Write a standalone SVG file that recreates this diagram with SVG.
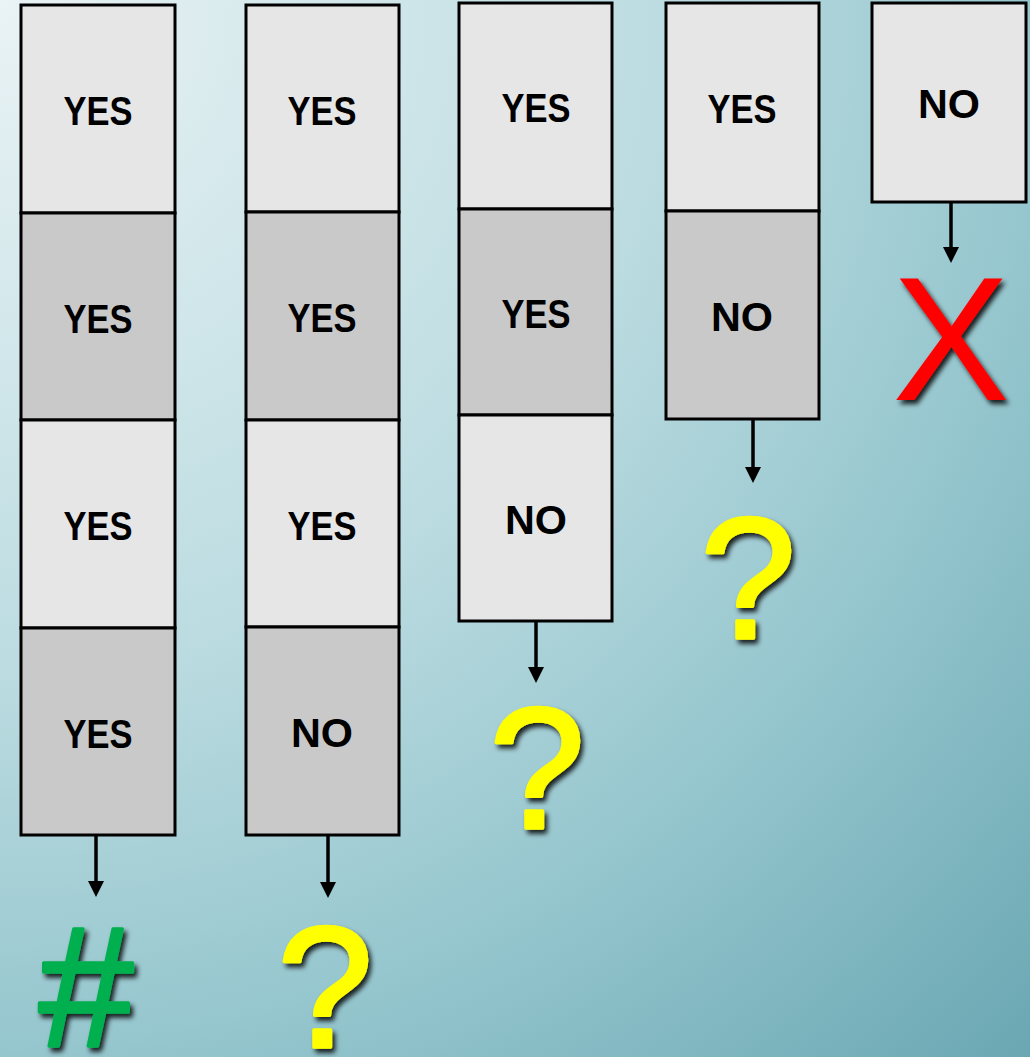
<svg xmlns="http://www.w3.org/2000/svg" width="1030" height="1057" viewBox="0 0 1030 1057">
  <defs>
    <radialGradient id="bg" cx="0" cy="0" r="1476" gradientUnits="userSpaceOnUse">
      <stop offset="0" stop-color="#eaf3f5"/>
      <stop offset="0.45" stop-color="#bcdce1"/>
      <stop offset="0.72" stop-color="#94c5cd"/>
      <stop offset="1" stop-color="#6aa7b3"/>
    </radialGradient>
    <filter id="shadow" x="-20%" y="-20%" width="150%" height="150%">
      <feDropShadow dx="3" dy="4" stdDeviation="2.5" flood-color="#000" flood-opacity="0.85"/>
    </filter>
    <marker id="arrow" viewBox="0 0 16 16" refX="2" refY="8" markerWidth="16" markerHeight="16" markerUnits="userSpaceOnUse" orient="auto">
      <path d="M0,0 L16,8 L0,16 z" fill="#000"/>
    </marker>
  </defs>
  <style>
    .light { fill: #e6e6e6; stroke: #000; stroke-width: 3; }
    .dark { fill: #c9c9c9; stroke: #000; stroke-width: 3; }
    .lbl { font-family: "Liberation Sans", Arial, sans-serif; font-weight: bold; font-size: 41px; fill: #000; text-anchor: middle; }
    .conn { stroke: #000; stroke-width: 3.5; fill: none; marker-end: url(#arrow); }
    .sym { font-family: "Liberation Sans", Arial, sans-serif; text-anchor: middle; filter: url(#shadow); stroke-width: 3.5; stroke-linejoin: round; }
    .q { fill: #ffff00; stroke: #ffff00; font-size: 172px; }
    .hash { fill: #00b050; stroke: #00b050; font-size: 170px; }
    .x { fill: #ff0000; font-size: 176px; }
  </style>
  <rect x="0" y="0" width="1030" height="1057" fill="url(#bg)"/>

  <g id="column1">
    <g id="c1r1"><rect class="light" x="21" y="5" width="154" height="208"/><text class="lbl" x="98" y="125" textLength="69" lengthAdjust="spacingAndGlyphs">YES</text></g>
    <g id="c1r2"><rect class="dark" x="21" y="213" width="154" height="207"/><text class="lbl" x="98" y="333" textLength="69" lengthAdjust="spacingAndGlyphs">YES</text></g>
    <g id="c1r3"><rect class="light" x="21" y="420" width="154" height="208"/><text class="lbl" x="98" y="540" textLength="69" lengthAdjust="spacingAndGlyphs">YES</text></g>
    <g id="c1r4"><rect class="dark" x="21" y="628" width="154" height="207"/><text class="lbl" x="98" y="748" textLength="69" lengthAdjust="spacingAndGlyphs">YES</text></g>
  </g>
  <g id="column2">
    <g id="c2r1"><rect class="light" x="246" y="5" width="153" height="207"/><text class="lbl" x="322" y="125" textLength="69" lengthAdjust="spacingAndGlyphs">YES</text></g>
    <g id="c2r2"><rect class="dark" x="246" y="212" width="153" height="208"/><text class="lbl" x="322" y="332" textLength="69" lengthAdjust="spacingAndGlyphs">YES</text></g>
    <g id="c2r3"><rect class="light" x="246" y="420" width="153" height="207"/><text class="lbl" x="322" y="540" textLength="69" lengthAdjust="spacingAndGlyphs">YES</text></g>
    <g id="c2r4"><rect class="dark" x="246" y="627" width="153" height="208"/><text class="lbl" x="322" y="747" textLength="62" lengthAdjust="spacingAndGlyphs">NO</text></g>
  </g>
  <g id="column3">
    <g id="c3r1"><rect class="light" x="459" y="3" width="153" height="206"/><text class="lbl" x="536" y="122" textLength="69" lengthAdjust="spacingAndGlyphs">YES</text></g>
    <g id="c3r2"><rect class="dark" x="459" y="209" width="153" height="206"/><text class="lbl" x="536" y="328" textLength="69" lengthAdjust="spacingAndGlyphs">YES</text></g>
    <g id="c3r3"><rect class="light" x="459" y="415" width="153" height="206"/><text class="lbl" x="536" y="534" textLength="62" lengthAdjust="spacingAndGlyphs">NO</text></g>
  </g>
  <g id="column4">
    <g id="c4r1"><rect class="light" x="666" y="3" width="153" height="208"/><text class="lbl" x="742" y="123" textLength="69" lengthAdjust="spacingAndGlyphs">YES</text></g>
    <g id="c4r2"><rect class="dark" x="666" y="211" width="153" height="208"/><text class="lbl" x="742" y="331" textLength="62" lengthAdjust="spacingAndGlyphs">NO</text></g>
  </g>
  <g id="column5">
    <g id="c5r1"><rect class="light" x="872" y="3" width="154" height="199"/><text class="lbl" x="949" y="118" textLength="62" lengthAdjust="spacingAndGlyphs">NO</text></g>
  </g>

  <g id="connectors">
    <line class="conn" x1="96" y1="836" x2="96" y2="883"/>
    <line class="conn" x1="328" y1="836" x2="328" y2="884"/>
    <line class="conn" x1="536" y1="622" x2="536" y2="669"/>
    <line class="conn" x1="753" y1="420" x2="753" y2="469"/>
    <line class="conn" x1="951" y1="203" x2="951" y2="249"/>
  </g>

  <g id="outcomes">
    <g id="out1"><text class="sym hash" x="86" y="1046">#</text></g>
    <g id="out2"><text class="sym q" x="325" y="1047">?</text></g>
    <g id="out3"><text class="sym q" x="537" y="828">?</text></g>
    <g id="out4"><text class="sym q" x="748" y="638">?</text></g>
    <g id="out5"><text class="sym x" x="951" y="400">X</text></g>
  </g>
</svg>
